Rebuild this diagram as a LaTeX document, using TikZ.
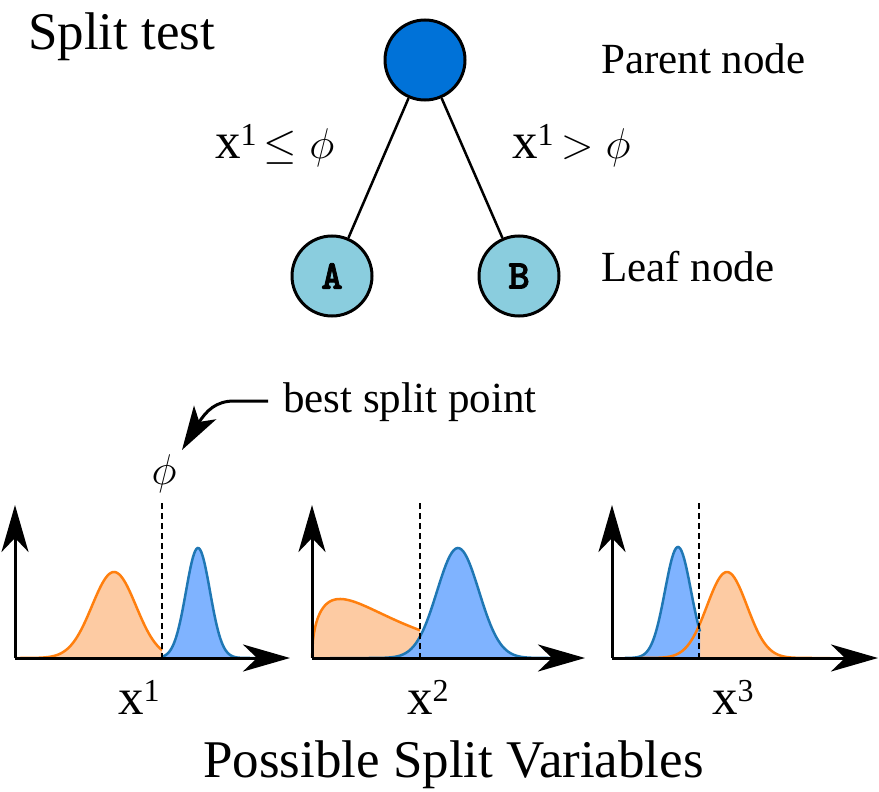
\documentclass[tikz,border=0pt]{standalone}
\usepackage{fix-cm}
\usepackage{fontspec}
\setmainfont{Liberation Serif}
\newfontfamily\abfont{lmmonolt10-bold.otf}[FakeBold=2]
\usetikzlibrary{arrows.meta}
\definecolor{parentblue}{RGB}{0,114,216}
\definecolor{leafblue}{RGB}{138,205,222}
\definecolor{oline}{RGB}{255,127,14}
\definecolor{ofill}{RGB}{253,203,163}
\definecolor{bline}{RGB}{31,119,180}
\definecolor{bfill}{RGB}{127,179,255}
\newcommand{\xvar}[1]{{\fontsize{51}{56}\selectfont x}\raisebox{13pt}{\fontsize{32}{36}\selectfont #1}}
\tikzset{
  parentnode/.style={circle,draw=black,line width=3pt,fill=parentblue,minimum size=80pt,inner sep=0pt},
  leafnode/.style={circle,draw=black,line width=3pt,fill=leafblue,minimum size=80pt,inner sep=0pt,font=\fontsize{41}{44}\selectfont\abfont},
  edge/.style={line width=2.5pt,draw=black},
  lbl/.style={inner sep=0pt,anchor=base west,font=\fontsize{43}{50}\selectfont},
  big/.style={inner sep=0pt,anchor=base west,font=\fontsize{53}{60}\selectfont},
  axis/.style={line width=3pt,-{Stealth[length=47pt,width=27pt,inset=14pt]}},
  splitline/.style={line width=2pt,dash pattern=on 6pt off 4pt},
  ofillst/.style={fill=ofill},
  olinest/.style={draw=oline,line width=2.5pt},
  bfillst/.style={fill=bfill},
  blinest/.style={draw=bline,line width=2.5pt},
}
\begin{document}
\begin{tikzpicture}[x=1pt,y=-1pt]
\useasboundingbox (0,0) rectangle (879,792);

% ---------- tree ----------
\node[big] (title) at (28,50) {Split test};
\node[parentnode] (P) at (425,60) {};
\node[leafnode] (A) at (332,276) {A};
\node[leafnode] (B) at (519,276) {B};
\draw[edge] (P) -- (A);
\draw[edge] (P) -- (B);
\node[lbl] (condL) at (215,158) {\xvar{1}\,$\leq\phi$};
\node[lbl] (condR) at (512,158) {\xvar{1}\,$>\phi$};
\node[lbl] (parentlbl) at (601,74) {Parent node};
\node[lbl] (leaflbl) at (601,281) {Leaf node};

% ---------- best split point ----------
\node[lbl] (bsp) at (283,412) {best split point};
\node[inner sep=0pt,font=\fontsize{43}{50}\selectfont] (phi) at (164,474) {$\phi$};
\coordinate (bspstart) at (268,401);
\coordinate (bsptip) at (182,450);
\draw[line width=3pt,-{Stealth[length=44pt,width=26pt,inset=11pt]}]
  (bspstart) -- (234,401) .. controls (216,401) and (206,411) .. (bsptip);

% ---------- plot 1 ----------
\fill[ofillst] (15,658) -- plot[domain=15:162,samples=90] (\x,{658-86*exp(-0.5*((\x-114)/22)^2)}) -- (162,658) -- cycle;
\fill[bfillst] (162,658) -- plot[domain=162:256,samples=80] (\x,{658-110*exp(-0.5*((\x-198)/12)^2)}) -- (256,658) -- cycle;
\draw[blinest] plot[domain=162:256,samples=80] (\x,{658-110*exp(-0.5*((\x-198)/12)^2)});
\draw[olinest] plot[domain=15:162,samples=90] (\x,{658-86*exp(-0.5*((\x-114)/22)^2)});
\coordinate (o1) at (15,658);
\coordinate (y1) at (15,505);
\coordinate (x1) at (290,658);
\draw[axis] (o1) -- (y1);
\draw[axis] (o1) -- (x1);
\coordinate (d1a) at (162,503);
\coordinate (d1b) at (162,658);
\draw[splitline] (d1a) -- (d1b);
\node[lbl] (xl1) at (118,714) {\xvar{1}};

% ---------- plot 2 ----------
\fill[ofillst] (312,658) -- plot[domain=312:420,samples=120] (\x,{658-59*sqrt((\x-312)/28)*exp(0.5*(1-(\x-312)/28))}) -- (420,658) -- cycle;
\fill[bfillst] (330,658) -- plot[domain=330:560,samples=120] (\x,{658-110*exp(-0.5*((\x-458)/21)^2)}) -- (560,658) -- cycle;
\draw[blinest] plot[domain=330:560,samples=120] (\x,{658-110*exp(-0.5*((\x-458)/21)^2)});
\draw[olinest] plot[domain=312:420,samples=120] (\x,{658-59*sqrt((\x-312)/28)*exp(0.5*(1-(\x-312)/28))});
\coordinate (o2) at (312,658);
\coordinate (y2) at (312,505);
\coordinate (x2) at (585,658);
\draw[axis] (o2) -- (y2);
\draw[axis] (o2) -- (x2);
\coordinate (d2a) at (420,503);
\coordinate (d2b) at (420,658);
\draw[splitline] (d2a) -- (d2b);
\node[lbl] (xl2) at (407,714) {\xvar{2}};

% ---------- plot 3 ----------
\fill[ofillst] (640,658) -- plot[domain=640:830,samples=120] (\x,{658-86*exp(-0.5*((\x-727)/20)^2)}) -- (830,658) -- cycle;
\fill[bfillst] (625,658) -- plot[domain=625:700,samples=80] (\x,{658-111*exp(-0.5*((\x-678)/13)^2)}) -- (700,658) -- cycle;
\draw[blinest] plot[domain=625:700,samples=80] (\x,{658-111*exp(-0.5*((\x-678)/13)^2)});
\draw[olinest] plot[domain=640:830,samples=120] (\x,{658-86*exp(-0.5*((\x-727)/20)^2)});
\coordinate (o3) at (612,658);
\coordinate (y3) at (612,505);
\coordinate (x3) at (878,658);
\draw[axis] (o3) -- (y3);
\draw[axis] (o3) -- (x3);
\coordinate (d3a) at (699,503);
\coordinate (d3b) at (699,658);
\draw[splitline] (d3a) -- (d3b);
\node[lbl] (xl3) at (712,714) {\xvar{3}};

\node[big] (caption) at (203,777) {Possible Split Variables};
\end{tikzpicture}
\end{document}
